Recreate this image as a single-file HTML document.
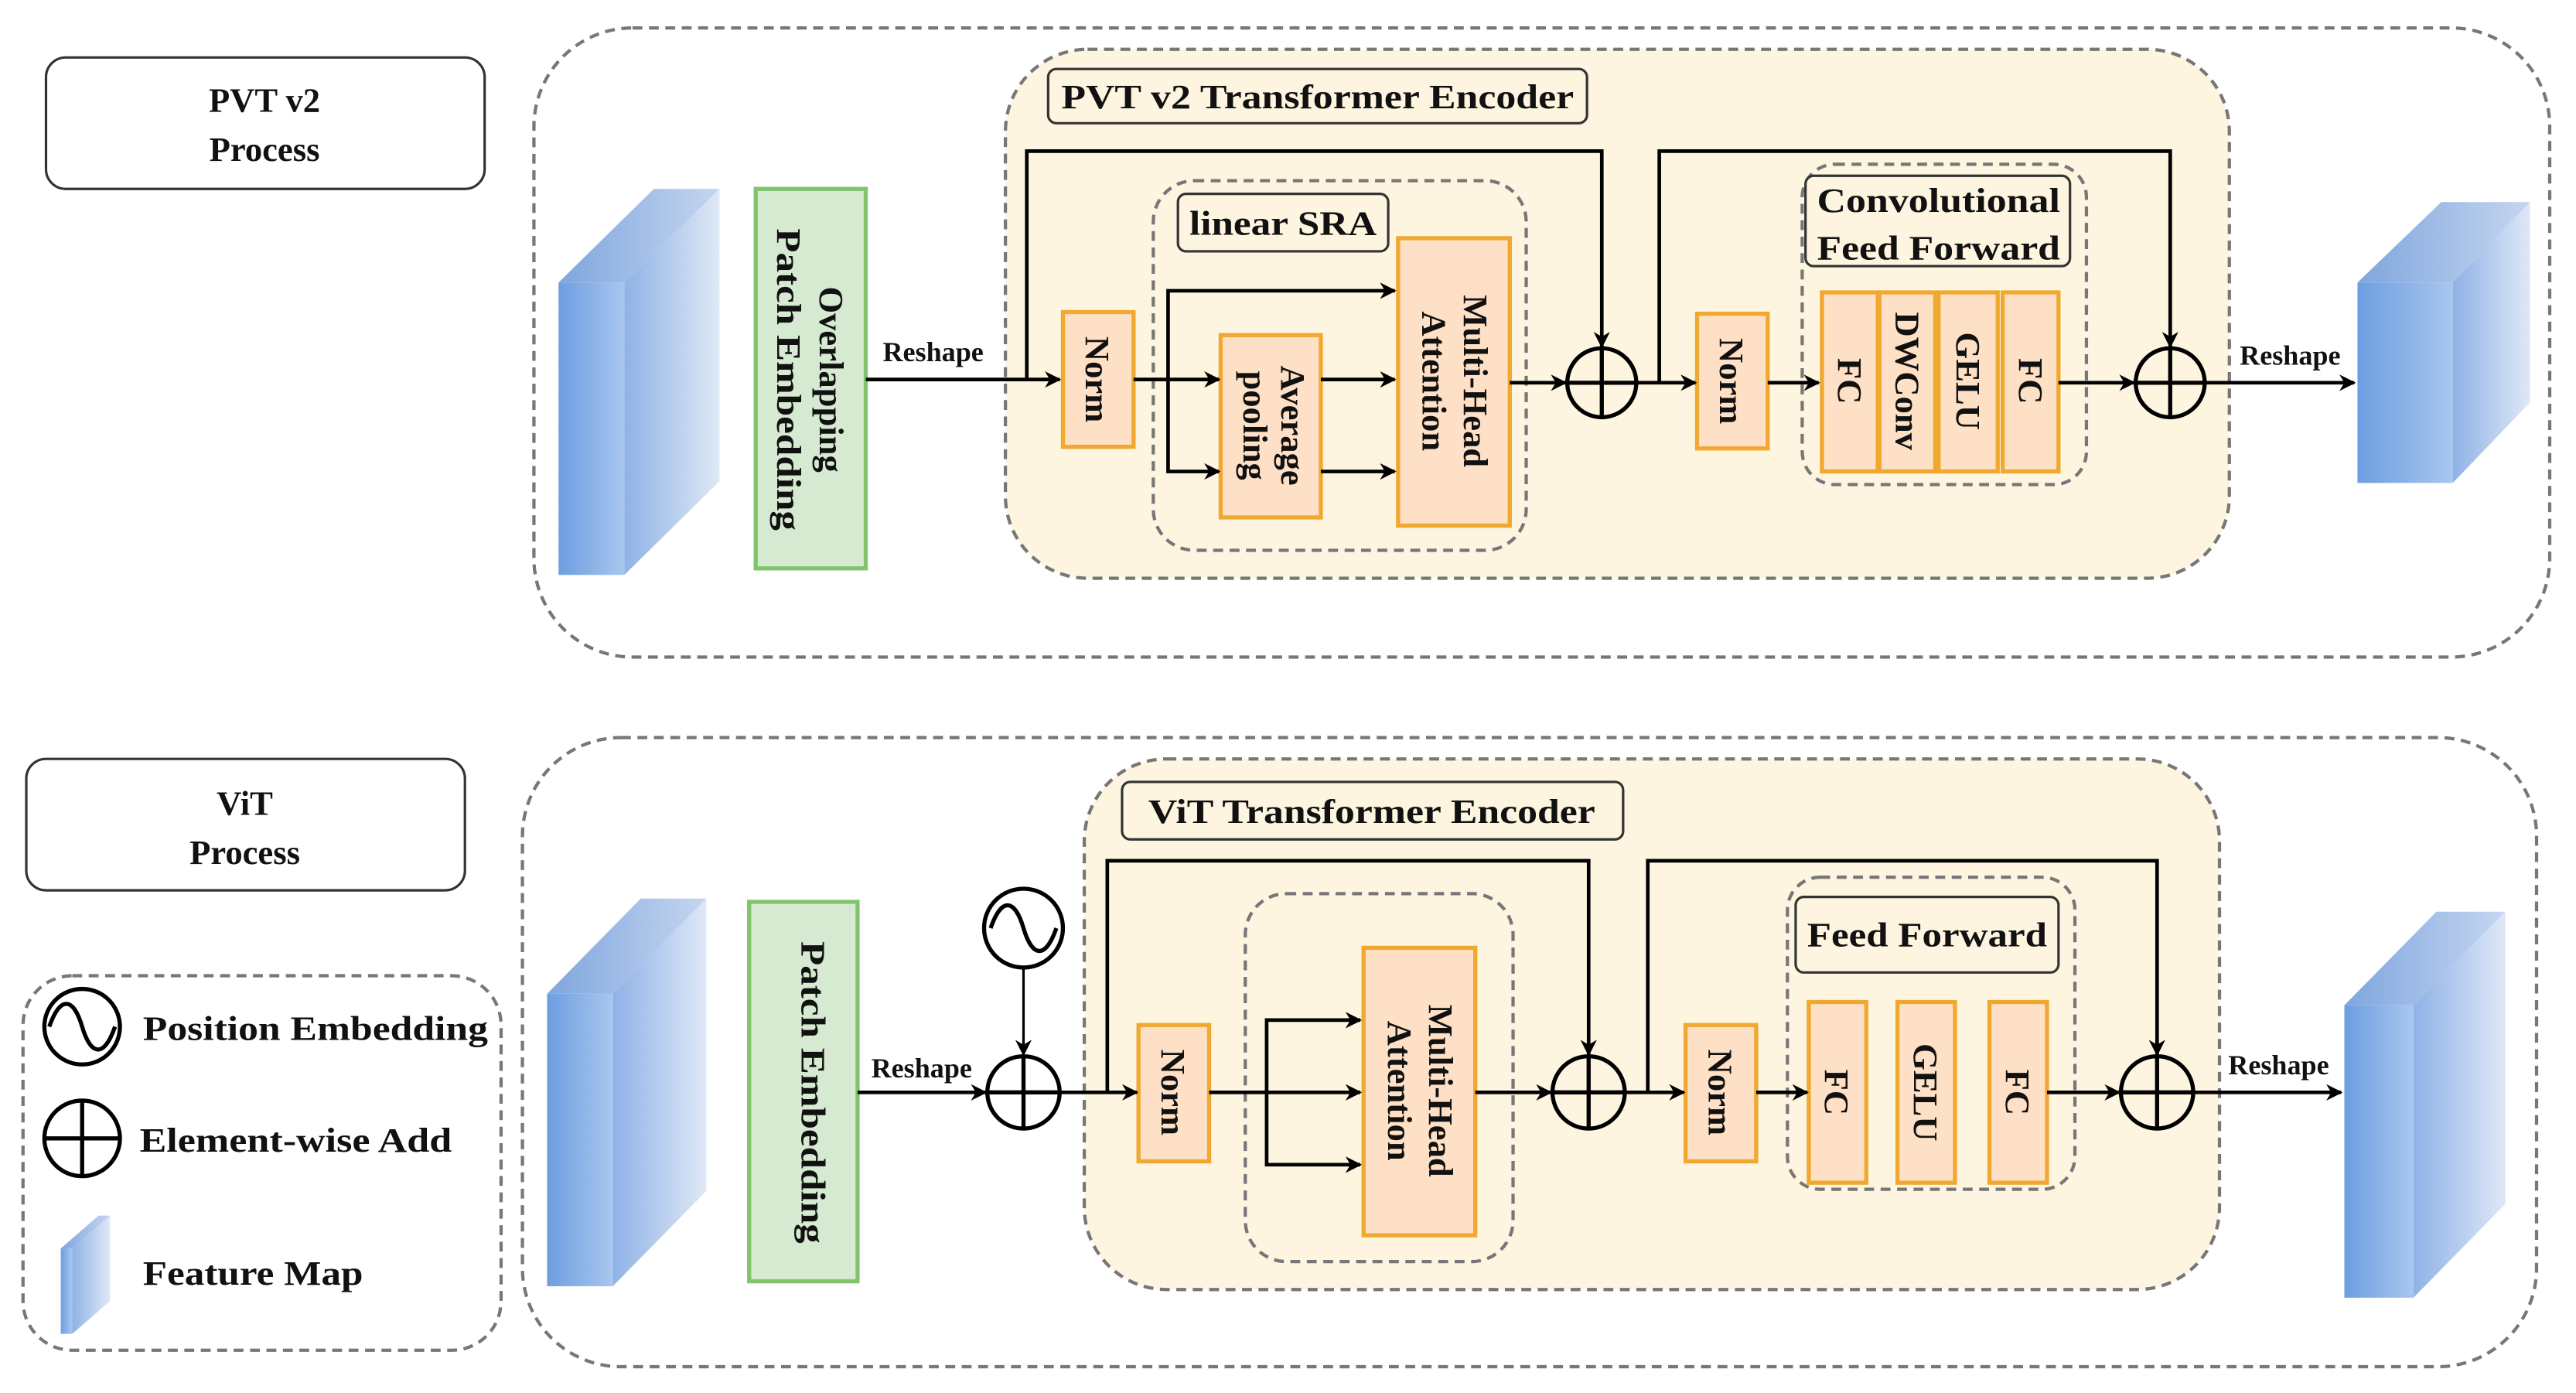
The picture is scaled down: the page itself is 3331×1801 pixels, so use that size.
<!DOCTYPE html>
<html><head><meta charset="utf-8"><style>
html,body{margin:0;padding:0;background:#fff;}
svg{display:block;}
text{font-family:"Liberation Serif",serif;font-weight:bold;fill:#111;}
</style></head><body>
<svg width="3331" height="1801" viewBox="0 0 1568 848" preserveAspectRatio="none" xmlns="http://www.w3.org/2000/svg">
<defs>
<marker id="ar" markerWidth="10" markerHeight="10" refX="9" refY="5" orient="auto" markerUnits="userSpaceOnUse"><path d="M0,0 L10,5 L0,10 L3,5 z" fill="#000"/></marker>
<linearGradient id="gf" x1="0" x2="1"><stop offset="0" stop-color="#6d9ee0"/><stop offset="1" stop-color="#a9c6ef"/></linearGradient>
<linearGradient id="gs" x1="0" x2="1"><stop offset="0" stop-color="#8fb2e6"/><stop offset="1" stop-color="#dfe8f6"/></linearGradient>
<linearGradient id="gt" x1="0" x2="1"><stop offset="0" stop-color="#7fa6de"/><stop offset="1" stop-color="#c5d6f0"/></linearGradient>
</defs>
<g fill="none" stroke="#777" stroke-width="2" stroke-dasharray="6,4">
<rect x="325" y="17" width="1227" height="383" rx="60"/>
<rect x="318" y="449" width="1226" height="383" rx="60"/>
<rect x="14" y="594" width="291" height="228" rx="30"/>
</g>
<rect x="612" y="30" width="745" height="322" rx="50" fill="#fdf5e0" stroke="#777" stroke-width="2" stroke-dasharray="6,4"/>
<rect x="660" y="462" width="691" height="323" rx="50" fill="#fdf5e0" stroke="#777" stroke-width="2" stroke-dasharray="6,4"/>
<g fill="none" stroke="#777" stroke-width="2" stroke-dasharray="6,4">
<rect x="702" y="110" width="227" height="225" rx="25"/>
<rect x="1097" y="100" width="173" height="195" rx="20"/>
<rect x="758" y="544" width="163" height="224" rx="25"/>
<rect x="1088" y="534" width="175" height="190" rx="20"/>
</g>
<g fill="#fff" stroke="#333" stroke-width="1.5">
<rect x="28" y="35" width="267" height="80" rx="12"/>
<rect x="16" y="462" width="267" height="80" rx="12"/>
</g>
<g fill="#fdf5e0" stroke="#333" stroke-width="1.5">
<rect x="638" y="42" width="328" height="33" rx="5"/>
<rect x="717" y="118" width="128" height="35" rx="5"/>
<rect x="1099" y="107" width="161" height="55" rx="5"/>
<rect x="683" y="476" width="305" height="35" rx="5"/>
<rect x="1093" y="546" width="160" height="46" rx="5"/>
</g>
<g font-size="21" text-anchor="middle">
<text x="161" y="68">PVT v2</text><text x="161" y="98">Process</text>
<text x="149" y="496">ViT</text><text x="149" y="526">Process</text>
<text x="802" y="66" textLength="312" lengthAdjust="spacingAndGlyphs">PVT v2 Transformer Encoder</text>
<text x="781" y="143" textLength="114" lengthAdjust="spacingAndGlyphs">linear SRA</text>
<text x="1180" y="129" textLength="148" lengthAdjust="spacingAndGlyphs">Convolutional</text><text x="1180" y="158" textLength="148" lengthAdjust="spacingAndGlyphs">Feed Forward</text>
<text x="835" y="501" textLength="272" lengthAdjust="spacingAndGlyphs">ViT Transformer Encoder</text>
<text x="1173" y="576" textLength="146" lengthAdjust="spacingAndGlyphs">Feed Forward</text>
</g>
<g stroke="none">
<polygon points="340,172 398,115 438,115 380,172" fill="url(#gt)"/><polygon points="380,172 438,115 438,293 380,350" fill="url(#gs)"/><rect x="340" y="172" width="40" height="178" fill="url(#gf)"/>
<polygon points="1435,172 1486,123 1540,123 1493,172" fill="url(#gt)"/><polygon points="1493,172 1540,123 1540,245 1493,294" fill="url(#gs)"/><rect x="1435" y="172" width="58" height="122" fill="url(#gf)"/>
<polygon points="333,605 390,547 430,547 373,605" fill="url(#gt)"/><polygon points="373,605 430,547 430,725 373,783" fill="url(#gs)"/><rect x="333" y="605" width="40" height="178" fill="url(#gf)"/>
<polygon points="1427,612 1483,555 1525,555 1469,612" fill="url(#gt)"/><polygon points="1469,612 1525,555 1525,733 1469,790" fill="url(#gs)"/><rect x="1427" y="612" width="42" height="178" fill="url(#gf)"/>
<polygon points="37,760 60,740 67,740 44,760" fill="url(#gt)"/><polygon points="44,760 67,740 67,792 44,812" fill="url(#gs)"/><rect x="37" y="760" width="7" height="52" fill="url(#gf)"/>
</g>
<g fill="#d5ead0" stroke="#82c46e" stroke-width="2.5">
<rect x="460" y="115" width="67" height="231"/>
<rect x="456" y="549" width="66" height="231"/>
</g>
<g fill="#fde0c5" stroke="#f0a830" stroke-width="2.5">
<rect x="647" y="190" width="43" height="82"/>
<rect x="743" y="204" width="61" height="111"/>
<rect x="851" y="145" width="68" height="175"/>
<rect x="1033" y="191" width="43" height="82"/>
<rect x="1109" y="178" width="34" height="109"/>
<rect x="1144" y="178" width="34" height="109"/>
<rect x="1180" y="178" width="36" height="109"/>
<rect x="1219" y="178" width="34" height="109"/>
<rect x="693" y="624" width="43" height="83"/>
<rect x="830" y="577" width="68" height="175"/>
<rect x="1026" y="624" width="43" height="83"/>
<rect x="1101" y="610" width="35" height="110"/>
<rect x="1155" y="610" width="35" height="110"/>
<rect x="1211" y="610" width="35" height="110"/>
</g>
<g font-size="21" text-anchor="middle">
<text transform="translate(499,231) rotate(90)">Overlapping</text>
<text transform="translate(473,231) rotate(90)" textLength="184" lengthAdjust="spacingAndGlyphs">Patch Embedding</text>
<text transform="translate(488,665) rotate(90)" textLength="184" lengthAdjust="spacingAndGlyphs">Patch Embedding</text>
<text transform="translate(661,231) rotate(90)">Norm</text>
<text transform="translate(1047,232) rotate(90)">Norm</text>
<text transform="translate(707,665) rotate(90)">Norm</text>
<text transform="translate(1040,665) rotate(90)">Norm</text>
<text transform="translate(780,259) rotate(90)">Average</text>
<text transform="translate(757,259) rotate(90)">pooling</text>
<text transform="translate(891,232) rotate(90)">Multi-Head</text>
<text transform="translate(866,232) rotate(90)">Attention</text>
<text transform="translate(870,664) rotate(90)">Multi-Head</text>
<text transform="translate(845,664) rotate(90)">Attention</text>
<text transform="translate(1119,232) rotate(90)">FC</text>
<text transform="translate(1154,232) rotate(90)">DWConv</text>
<text transform="translate(1191,232) rotate(90)">GELU</text>
<text transform="translate(1229,232) rotate(90)">FC</text>
<text transform="translate(1111,665) rotate(90)">FC</text>
<text transform="translate(1165,665) rotate(90)">GELU</text>
<text transform="translate(1221,665) rotate(90)">FC</text>
</g>
<g font-size="17" text-anchor="middle">
<text x="568" y="220">Reshape</text>
<text x="1394" y="222">Reshape</text>
<text x="561" y="656">Reshape</text>
<text x="1387" y="654">Reshape</text>
</g>
<g fill="none" stroke="#000" stroke-width="2.2" marker-end="url(#ar)">
<line x1="527" y1="231" x2="645" y2="231"/>
<polyline points="625,231 625,92 975,92 975,211"/>
<line x1="690" y1="231" x2="742" y2="231"/>
<polyline points="711,231 711,177 849,177"/>
<polyline points="711,231 711,287 742,287"/>
<line x1="804" y1="231" x2="849" y2="231"/>
<line x1="804" y1="287" x2="849" y2="287"/>
<line x1="919" y1="233" x2="953" y2="233"/>
<line x1="996" y1="233" x2="1032" y2="233"/>
<polyline points="1010,233 1010,92 1321,92 1321,211"/>
<line x1="1076" y1="233" x2="1107" y2="233"/>
<line x1="1253" y1="233" x2="1299" y2="233"/>
<line x1="1342" y1="233" x2="1433" y2="233"/>
<line x1="522" y1="665" x2="600" y2="665"/>
<line x1="623" y1="589" x2="623" y2="642" stroke-width="1.5"/>
<line x1="645" y1="665" x2="692" y2="665"/>
<polyline points="674,665 674,524 967,524 967,642"/>
<line x1="736" y1="665" x2="828" y2="665"/>
<polyline points="771,665 771,621 828,621"/>
<polyline points="771,665 771,709 828,709"/>
<line x1="898" y1="665" x2="944" y2="665"/>
<line x1="989" y1="665" x2="1025" y2="665"/>
<polyline points="1003,665 1003,524 1313,524 1313,642"/>
<line x1="1069" y1="665" x2="1100" y2="665"/>
<line x1="1246" y1="665" x2="1290" y2="665"/>
<line x1="1335" y1="665" x2="1425" y2="665"/>
</g>
<g fill="none" stroke="#000" stroke-width="2.5">
<circle cx="975" cy="233" r="21"/><path d="M954,233H996M975,212V254"/>
<circle cx="1321" cy="233" r="21"/><path d="M1300,233H1342M1321,212V254"/>
<circle cx="623" cy="665" r="22"/><path d="M601,665H645M623,643V687"/>
<circle cx="967" cy="665" r="22"/><path d="M945,665H989M967,643V687"/>
<circle cx="1313" cy="665" r="22"/><path d="M1291,665H1335M1313,643V687"/>
<circle cx="50" cy="693" r="23"/><path d="M27,693H73M50,670V716"/>
<circle cx="623" cy="565" r="24"/><path d="M603,565 C610,545 618,548 623,565 C628,582 636,585 643,565"/>
<circle cx="50" cy="625" r="23"/><path d="M30,625 C37,605 45,608 50,625 C55,642 63,645 70,625"/>
</g>
<g font-size="21">
<text x="87" y="633" textLength="210" lengthAdjust="spacingAndGlyphs">Position Embedding</text>
<text x="85" y="701" textLength="190" lengthAdjust="spacingAndGlyphs">Element-wise Add</text>
<text x="87" y="782" textLength="134" lengthAdjust="spacingAndGlyphs">Feature Map</text>
</g>
</svg>
</body></html>
